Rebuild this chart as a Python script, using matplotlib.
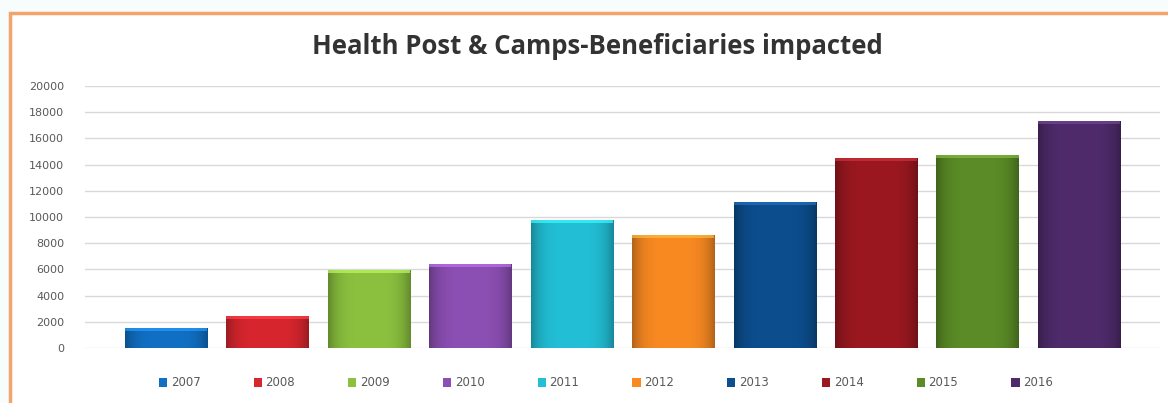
import matplotlib
matplotlib.use("Agg")
import matplotlib.pyplot as plt
import numpy as np
from matplotlib.patches import Patch, Rectangle
from matplotlib.colors import to_rgb

years = ["2007", "2008", "2009", "2010", "2011", "2012", "2013", "2014", "2015", "2016"]
values = [1500, 2450, 5950, 6400, 9800, 8650, 11150, 14500, 14750, 17350]
colors = ["#1170C4", "#D8262E", "#8BC13F", "#8C4FB3", "#22BFD6", "#F98A22",
          "#0C4E8E", "#9C1820", "#5B8C27", "#4F2B6C"]
title = "Health Post & Camps-Beneficiaries impacted"
yticks = [0, 2000, 4000, 6000, 8000, 10000, 12000, 14000, 16000, 18000, 20000]

W, H = 1168, 403
fig = plt.figure(figsize=(W / 100, H / 100), dpi=100)
fig.patch.set_facecolor("#F7FCFD")

# orange frame
frame = Rectangle((10 / W, -0.05), 1.2, 1 - 13 / H + 0.05, transform=fig.transFigure,
                  facecolor="white", edgecolor="#F2A46E", linewidth=2.5, zorder=-10)
fig.patches.append(frame)

ax = fig.add_axes([85 / W, 1 - 348 / H, (1160 - 85) / W, (348 - 86) / H])
ax.set_facecolor("none")
x = np.arange(len(years))
bars = ax.bar(x, values, width=0.81, color=colors, zorder=3, linewidth=0)

# gradient shading for 3D-ish look
for b, c in zip(bars, colors):
    rgb = np.array(to_rgb(c))
    t = np.linspace(0, 1, 64)
    shade = 1 - 0.28 * (np.abs(t - 0.5) * 2) ** 4
    img = np.clip(rgb[None, :] * shade[:, None], 0, 1)[None, :, :]
    x0, w, h = b.get_x(), b.get_width(), b.get_height()
    im = ax.imshow(img, extent=[x0, x0 + w, 0, h], aspect="auto", zorder=3.5,
                   interpolation="bilinear")
    im.set_clip_path(b)
    lt = np.clip(rgb * 1.2 + 0.08, 0, 1)
    ax.add_patch(Rectangle((x0, h - 220), w, 220, facecolor=lt, edgecolor="none",
                           zorder=4, alpha=0.7))

ax.set_xlim(-0.8, 9.8)
ax.set_ylim(0, 20000)
ax.set_yticks(yticks)
ax.set_yticklabels([str(v) for v in yticks])
ax.set_xticks([])
ax.tick_params(axis="y", length=0, pad=15, labelsize=8, labelcolor="#595959")
for s in ax.spines.values():
    s.set_visible(False)
ax.grid(axis="y", color="#D9D9D9", linewidth=1, zorder=0)
ax.set_axisbelow(True)

fig.text(597 / W, 1 - 47 / H, title, ha="center", va="center", fontsize=18.5,
         fontweight="bold", color="#333333", family="Open Sans")

handles = [Patch(facecolor=c, edgecolor="none") for c in colors]
fig.legend(handles, years, loc="center", bbox_to_anchor=(606 / W, 1 - 383 / H),
           ncol=10, frameon=False, fontsize=8.5, handlelength=0.7, handleheight=0.7,
           handletextpad=0.3, columnspacing=4.5, labelcolor="#595959")

fig.savefig("out.png", dpi=100, facecolor=fig.get_facecolor())
